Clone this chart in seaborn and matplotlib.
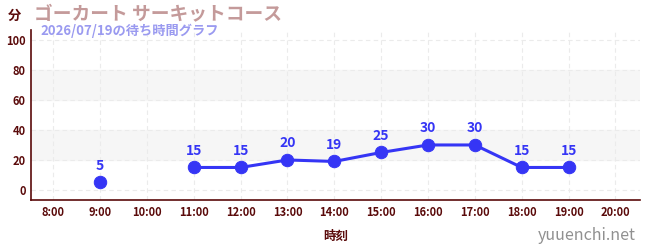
import numpy as np
import pandas as pd
import matplotlib
matplotlib.use("Agg")
import matplotlib.pyplot as plt
import seaborn as sns

hours = [8, 9, 10, 11, 12, 13, 14, 15, 16, 17, 18, 19, 20]
tick_labels = ["8:00", "9:00", "10:00", "11:00", "12:00", "13:00", "14:00",
               "15:00", "16:00", "17:00", "18:00", "19:00", "20:00"]
waits = [np.nan, 5, np.nan, 15, 15, 20, 19, 25, 30, 30, 15, 15, np.nan]

title = "ゴーカート サーキットコース"
subtitle = "2026/07/19の待ち時間グラフ"

sns.set_theme(style="white")
plt.rcParams['font.family'] = ['Noto Sans CJK JP', 'DejaVu Sans']

df = pd.DataFrame({"hour": hours, "wait": waits})
df["seg"] = (df["wait"].isna()).cumsum()
dfv = df.dropna()

fig = plt.figure(figsize=(6.5, 2.5), dpi=100)
ax = fig.add_axes([0.048, 0.2, 0.937, 0.682])

dark = "#5a0a0a"
blue = "#3535f5"

ax.axhspan(20, 40, color="#f6f6f6", zorder=0)
ax.axhspan(60, 80, color="#f6f6f6", zorder=0)
for y in range(0, 101, 20):
    ax.axhline(y, color="#ebebeb", lw=0.8, ls=(0, (4, 3)), zorder=0.5)
for h in hours:
    ax.axvline(h, color="#ebebeb", lw=0.8, ls=(0, (4, 3)), zorder=0.5)

sns.lineplot(data=dfv, x="hour", y="wait", units="seg", estimator=None,
             color=blue, lw=2.2, ax=ax, zorder=3)
sns.scatterplot(data=dfv, x="hour", y="wait", color=blue, s=80,
                edgecolor=blue, ax=ax, zorder=4)

for h, w in zip(dfv["hour"], dfv["wait"]):
    ax.annotate(f"{int(w)}", (h, w), xytext=(0, 7), textcoords="offset points",
                ha="center", va="bottom", color=blue, fontsize=10,
                fontweight="bold")

ax.set_xlim(7.53, 20.53)
ax.set_ylim(-6.7, 107)
ax.set_xticks(hours)
ax.set_xticklabels(tick_labels)
ax.set_yticks(range(0, 101, 20))
ax.set_yticks(range(10, 100, 20), minor=True)
ax.tick_params(axis="both", which="major", labelsize=8, colors=dark,
               length=4, width=1, direction="inout", pad=2)
ax.tick_params(axis="y", which="minor", length=4, width=1, color="#d01010",
               direction="inout")
ax.tick_params(axis="x", which="major", length=4, color="#555555")
for lab in ax.get_xticklabels() + ax.get_yticklabels():
    lab.set_color(dark)
    lab.set_fontweight("bold")

for s in ["top", "right"]:
    ax.spines[s].set_visible(False)
for s in ["left", "bottom"]:
    ax.spines[s].set_color(dark)
    ax.spines[s].set_linewidth(1.2)

ax.set_xlabel("時刻", fontsize=9, fontweight="bold", color=dark, labelpad=8)
ax.set_ylabel("")

fig.text(0.012, 0.935, "分", fontsize=9.5, fontweight="bold", color=dark,
         va="center", ha="left")
fig.text(0.052, 0.94, title, fontsize=13.5, fontweight="bold",
         color="#c49a9a", va="center", ha="left")
fig.text(0.062, 0.875, subtitle, fontsize=9.5, fontweight="bold",
         color="#9a9af0", va="center", ha="left")
fig.text(0.978, 0.06, "yuuenchi.net", fontsize=11.5, color="#909090",
         va="center", ha="right")

fig.savefig("out.png", dpi=100)
